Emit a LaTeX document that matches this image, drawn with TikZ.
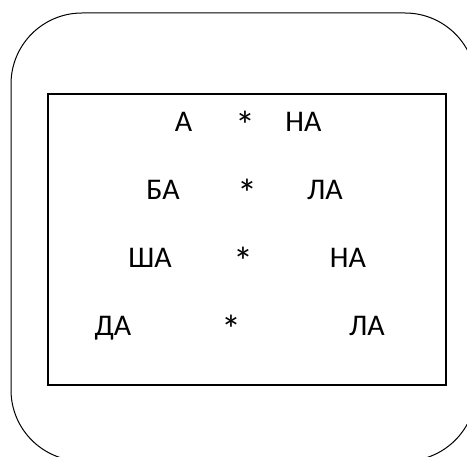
\documentclass[tikz,border=0pt]{standalone}
\usepackage{fontspec}
\setmainfont{Carlito}
\usetikzlibrary{positioning}

\tikzset{
  syl/.style={anchor=base, inner sep=0pt, font=\fontsize{30}{32}\selectfont},
  star/.style={anchor=center, inner sep=0pt, font=\fontsize{40}{42}\selectfont}
}

\begin{document}
\begin{tikzpicture}[x=1pt, y=-1pt]
        \useasboundingbox (0,0) rectangle (467,457);
        \begin{scope}
        \clip (0,0) rectangle (467,457);
        \draw[line width=1pt, rounded corners=71pt] (11,13) rectangle (476,461);
        \end{scope}
        \draw[line width=1.6pt] (48,94) rectangle (446,385);

        \node[syl] (a1) at (183.5,132) {А};  \node[star] (s1) at (245.5,125.5) {*};  \node[syl] (b1) at (303.5,132) {НА};
        \node[syl] (a2) at (163,200) {БА}; \node[star] (s2) at (247,193.5) {*};  \node[syl] (b2) at (325,200) {ЛА};
        \node[syl] (a3) at (150,268) {ША}; \node[star] (s3) at (243,261.5) {*};  \node[syl] (b3) at (348,268) {НА};
        \node[syl] (a4) at (113,336) {ДА}; \node[star] (s4) at (231,329.5) {*};  \node[syl] (b4) at (367,336) {ЛА};

      \end{tikzpicture}
\end{document}
